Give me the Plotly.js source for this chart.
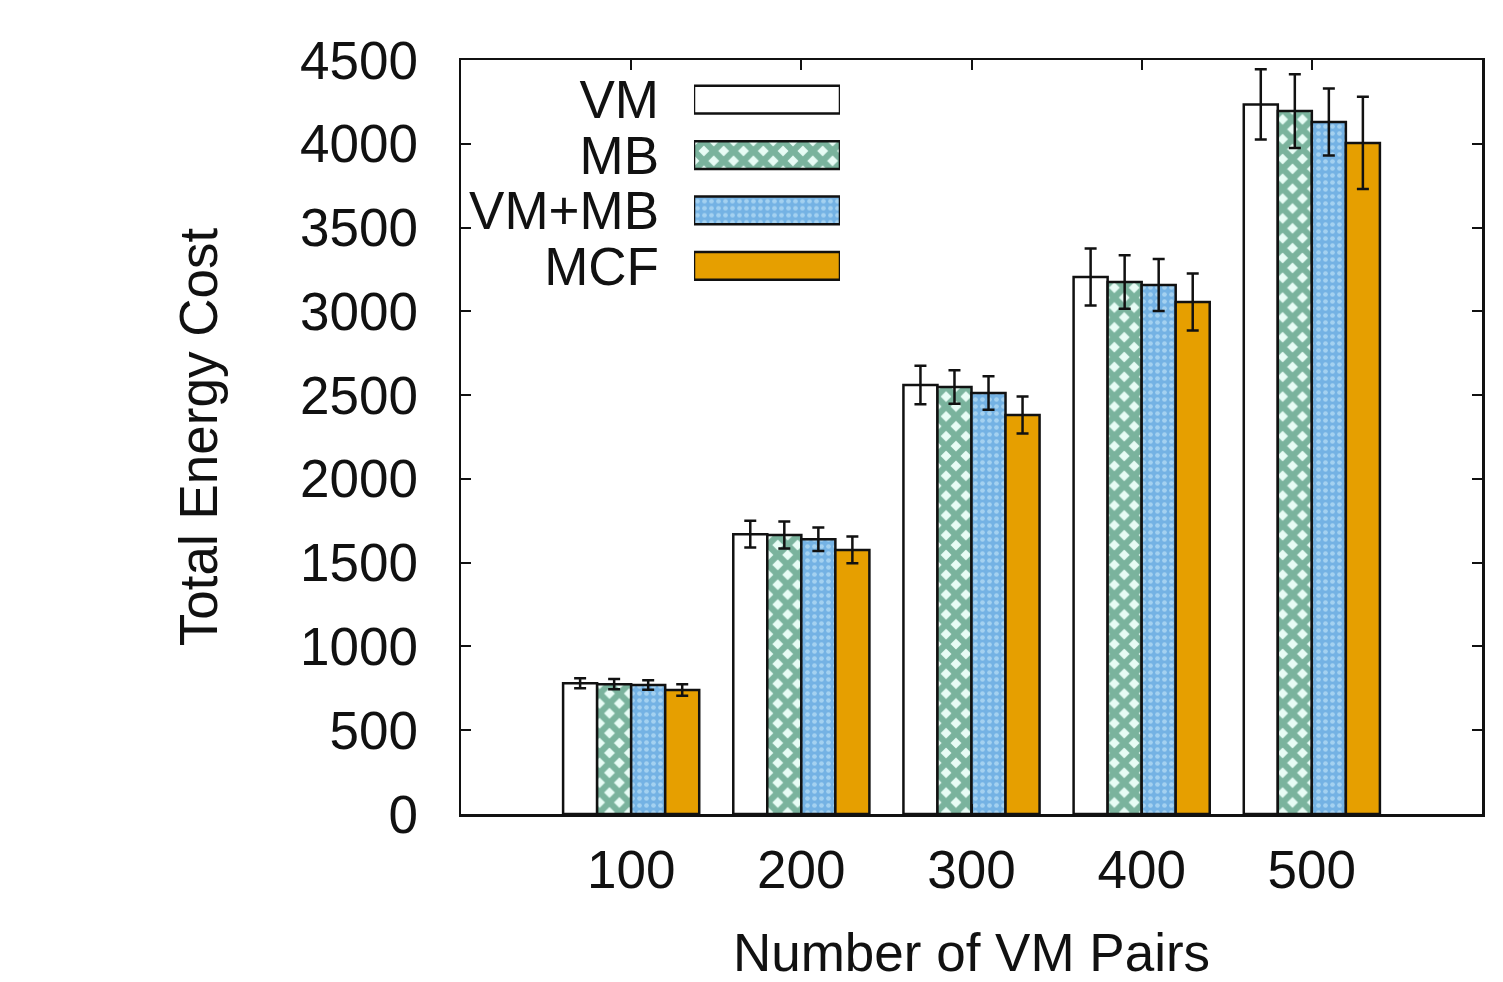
<!DOCTYPE html>
<html>
<head>
<meta charset="utf-8">
<script src="https://cdn.plot.ly/plotly-3.0.1.min.js"></script>
<style>html,body{margin:0;padding:0;background:#fff;}#chart{width:1503px;height:982px;}</style>
</head>
<body>
<div id="chart"></div>
<script>
const groups = [100, 200, 300, 400, 500];
const seriesNames = ["VM", "MB", "VM+MB", "MCF"];
const vm = [780, 1670, 2560, 3205, 4235];
const vmErr = [30, 80, 115, 170, 210];
const mb = [775, 1665, 2548, 3175, 4195];
const mbErr = [30, 80, 100, 160, 220];
const vmmb = [770, 1640, 2513, 3157, 4130];
const vmmbErr = [28, 70, 100, 155, 200];
const mcf = [740, 1576, 2381, 3056, 4005];
const mcfErr = [35, 80, 110, 170, 275];
const yTicks = [0, 500, 1000, 1500, 2000, 2500, 3000, 3500, 4000, 4500];

const styles = [
  {color: "#ffffff", pattern: {shape: ""}},
  {color: "#e8fcf5", pattern: {shape: "x", fgcolor: "#0c6a45", size: 14, solidity: 0.7, fillmode: "overlay"}},
  {color: "#74b2e4", pattern: {shape: ".", fgcolor: "#d3effb", size: 7, solidity: 0.35, fillmode: "overlay"}},
  {color: "#e69f00", pattern: {shape: ""}}
];
const values = [vm, mb, vmmb, mcf];
const errs = [vmErr, mbErr, vmmbErr, mcfErr];
const FONT = "Liberation Sans, Arial, sans-serif";

const traces = [];
seriesNames.forEach((name, i) => {
  traces.push({
    type: "bar", name: name, x: groups, y: values[i],
    xaxis: "x", yaxis: "y",
    marker: {color: styles[i].color, pattern: styles[i].pattern, line: {color: "#111", width: 2.5}},
    error_y: {type: "data", array: errs[i], visible: true, color: "#111", thickness: 2.5, width: 6},
    showlegend: false
  });
});
// legend swatches drawn as a small horizontal bar panel whose category labels are the legend texts
seriesNames.forEach((name, i) => {
  traces.push({
    type: "bar", orientation: "h", x: [1], y: [name],
    xaxis: "x2", yaxis: "y2", width: 0.5, offset: -0.25,
    marker: {color: styles[i].color, pattern: styles[i].pattern, line: {color: "#111", width: 2.5}},
    showlegend: false, hoverinfo: "skip"
  });
});

const layout = {
  width: 1503, height: 982,
  margin: {l: 461, r: 21, t: 60, b: 168},
  paper_bgcolor: "#fff", plot_bgcolor: "#fff",
  barmode: "group", bargap: 0.2, bargroupgap: 0,
  font: {family: FONT, color: "#111", size: 53},
  showlegend: false,
  xaxis: {
    range: [0, 600], tickvals: groups, ticktext: groups.map(String),
    showline: true, mirror: "ticks", linecolor: "#111", linewidth: 2.5,
    ticks: "inside", ticklen: 10, tickwidth: 2, tickcolor: "#111",
    showgrid: false, zeroline: false, ticklabelstandoff: 8,
    tickfont: {family: FONT, size: 53, color: "#111"},
    title: {text: "Number of VM Pairs", font: {family: FONT, size: 53, color: "#111"}, standoff: 38}
  },
  yaxis: {
    range: [0, 4500], tickvals: yTicks,
    showline: true, mirror: "ticks", linecolor: "#111", linewidth: 2.5,
    ticks: "inside", ticklen: 10, tickwidth: 2, tickcolor: "#111",
    showgrid: false, zeroline: false, ticklabelstandoff: 30,
    tickfont: {family: FONT, size: 53, color: "#111"},
    title: {text: "Total Energy Cost", font: {family: FONT, size: 53, color: "#111"}, standoff: 66}
  },
  xaxis2: {domain: [0.2282, 0.3712], anchor: "y2", range: [0, 1], visible: false, fixedrange: true},
  yaxis2: {
    domain: [0.690, 0.9844], anchor: "x2", type: "category", autorange: "reversed",
    tickmode: "array", tickvals: seriesNames, ticktext: seriesNames,
    showline: false, ticks: "", showgrid: false, zeroline: false,
    ticklabelstandoff: 34, tickfont: {family: FONT, size: 53, color: "#111"}
  }
};

Plotly.newPlot("chart", traces, layout, {staticPlot: true});
</script>
</body>
</html>
